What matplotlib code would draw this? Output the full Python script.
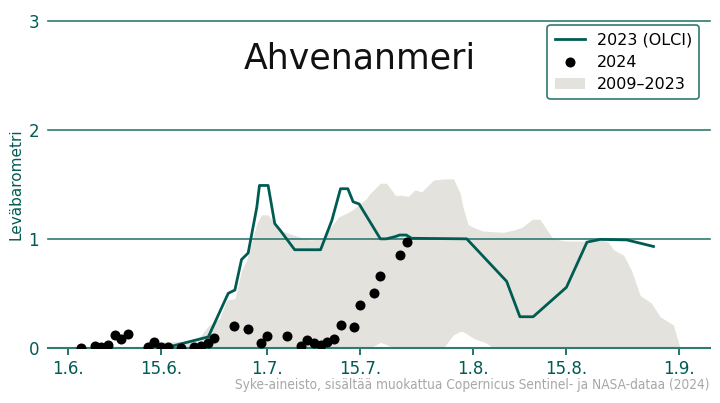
#!/usr/bin/env python3
"""Leväbarometri chart for Ahvenanmeri, 2024 vs 2023 and 2009-2023 range."""

import numpy as np
import pandas as pd
import matplotlib
matplotlib.use("Agg")
import matplotlib.pyplot as plt

TEAL = "#005c53"
GRID = "#2f7a71"
FILL = "#e3e2dd"
CAPTION = "#a8a8a8"

START = pd.Timestamp("2024-06-01")

# 2023 (OLCI) line, days from 1 June
line_days = [13.0, 15.3, 21.1, 24.1, 25.1, 26.1, 27.1, 28.4, 28.8, 30.1, 31.1, 31.9,
             34.1, 38.0, 39.7, 41.0, 42.1, 42.9, 43.8, 47.0, 47.9, 49.2, 49.9, 50.9,
             51.7, 60.0, 66.0, 68.0, 70.0, 75.0, 78.1, 80.1, 84.1, 88.1]
line_vals = [0.0, 0.01, 0.10, 0.50, 0.53, 0.81, 0.87, 1.29, 1.49, 1.49, 1.14, 1.08,
             0.90, 0.90, 1.17, 1.46, 1.46, 1.34, 1.32, 1.00, 1.00, 1.02, 1.035, 1.035,
             1.005, 1.00, 0.61, 0.285, 0.285, 0.555, 0.97, 0.995, 0.99, 0.93]

# 2024 observations
dot_days = [2, 4, 5, 6, 7, 8, 9, 12, 13, 14, 15, 17, 19, 20, 21, 22, 25, 27, 29, 30,
            33, 35, 36, 37, 38, 39, 40, 41, 43, 44, 46, 47, 50, 51]
dot_vals = [0.0, 0.02, 0.01, 0.03, 0.12, 0.08, 0.13, 0.01, 0.05, 0.01, 0.01, 0.0,
            0.01, 0.02, 0.04, 0.09, 0.20, 0.17, 0.04, 0.11, 0.11, 0.015, 0.07, 0.04,
            0.025, 0.05, 0.08, 0.21, 0.19, 0.39, 0.50, 0.66, 0.85, 0.97]

# 2009-2023 range (upper and lower edge)
band_days = [10.8, 12.3, 15.3, 19.3, 21.1, 22.8, 23.9, 25.1, 26.1, 26.9, 28.4, 29.1,
             30.1, 31.1, 31.9, 33.9, 36.4, 38.2, 39.4, 40.7, 42.7, 44.9, 45.5, 47.0,
             47.9, 48.8, 49.2, 50.2, 51.2, 52.2, 53.2, 55.0, 56.5, 58.0, 59.0, 59.4,
             60.2, 61.2, 62.5, 63.0, 64.0, 65.5, 67.0, 68.3, 69.9, 71.0, 73.0, 75.0,
             78.1, 80.1, 81.3, 82.1, 83.6, 84.8, 86.1, 87.8, 89.1, 91.1, 92.1]
band_upper = [0.0, 0.05, 0.055, 0.06, 0.20, 0.27, 0.44, 0.45, 0.71, 0.81, 1.14, 1.22,
              1.22, 1.14, 1.08, 1.035, 0.99, 1.00, 1.10, 1.20, 1.26, 1.37, 1.42, 1.51,
              1.51, 1.44, 1.40, 1.40, 1.39, 1.45, 1.43, 1.54, 1.55, 1.55, 1.42, 1.30,
              1.13, 1.10, 1.07, 1.07, 1.065, 1.06, 1.08, 1.105, 1.18, 1.18, 1.00, 0.98,
              0.98, 0.995, 0.97, 0.90, 0.85, 0.71, 0.48, 0.41, 0.285, 0.21, 0.0]
band_lower = [0.0, 0.0, 0.0, 0.0, 0.0, 0.0, 0.0, 0.0, 0.0, 0.0, 0.0, 0.0,
              0.0, 0.0, 0.0, 0.0, 0.0, 0.0, 0.0, 0.0, 0.0, 0.0, 0.0, 0.05,
              0.03, 0.0, 0.0, 0.0, 0.0, 0.0, 0.0, 0.0, 0.0, 0.12, 0.15, 0.15,
              0.12, 0.08, 0.055, 0.04, 0.0, 0.0, 0.0, 0.0, 0.0, 0.0, 0.0, 0.0,
              0.0, 0.0, 0.0, 0.0, 0.0, 0.0, 0.0, 0.0, 0.0, 0.0, 0.0]

tick_days = [0, 14, 30, 44, 61, 75, 92]
tick_labels = ["1.6.", "15.6.", "1.7.", "15.7.", "1.8.", "15.8.", "1.9."]


def to_dates(days):
    return START + pd.to_timedelta(np.asarray(days, dtype=float), unit="D")


fig = plt.figure(figsize=(7.2, 4.03), dpi=100)
ax = fig.add_axes([0.066, 0.137, 0.92, 0.811])

ax.fill_between(to_dates(band_days), band_lower, band_upper, color=FILL,
                linewidth=0, zorder=1, label="2009–2023")
for y in (1, 2, 3):
    ax.axhline(y, color=GRID, linewidth=1.2, zorder=1.5, clip_on=False)
ax.plot(to_dates(line_days), line_vals, color=TEAL, linewidth=2, zorder=3,
        label="2023 (OLCI)")
ax.scatter(to_dates(dot_days), dot_vals, s=52, color="black", zorder=4,
           linewidths=0, label="2024")

ax.set_ylim(0, 3)
ax.set_xlim(START + pd.Timedelta(days=-3.1), START + pd.Timedelta(days=96.6))
ax.set_yticks([0, 1, 2, 3])
ax.set_xticks(to_dates(tick_days))
ax.set_xticklabels(tick_labels)
ax.tick_params(axis="x", colors=TEAL, labelsize=12, length=5, width=1.2)
ax.tick_params(axis="y", colors=TEAL, labelsize=12, length=0, pad=6)
for side in ("top", "right", "left"):
    ax.spines[side].set_visible(False)
ax.spines["bottom"].set_color(GRID)
ax.spines["bottom"].set_linewidth(1.5)
ax.set_ylabel("Leväbarometri", color=TEAL, fontsize=11, labelpad=4)

handles, labels = ax.get_legend_handles_labels()
order = [labels.index(n) for n in ("2023 (OLCI)", "2024", "2009–2023")]
leg = ax.legend([handles[i] for i in order], [labels[i] for i in order],
                loc="upper right", bbox_to_anchor=(0.984, 0.987), borderaxespad=0,
                fontsize=11.5, frameon=True, fancybox=True, framealpha=1,
                borderpad=0.45, handlelength=1.9, handletextpad=0.75,
                labelspacing=0.45)
leg.get_frame().set_edgecolor(GRID)
leg.get_frame().set_linewidth(1.2)

fig.text(0.5, 0.855, "Ahvenanmeri", ha="center", va="center", fontsize=25, color="#111111")
fig.text(0.985, 0.045, "Syke-aineisto, sisältää muokattua Copernicus Sentinel- ja NASA-dataa (2024)",
         ha="right", va="center", fontsize=9.8, fontstretch="condensed", color=CAPTION)

fig.savefig("out.png", dpi=100)
